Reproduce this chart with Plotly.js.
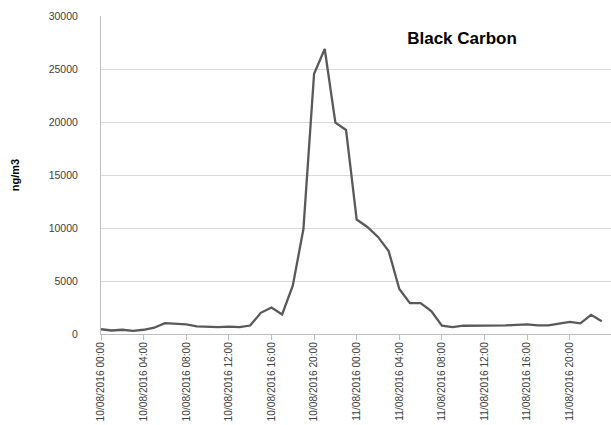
<!DOCTYPE html>
<html>
<head>
<meta charset="utf-8">
<script src="https://cdn.plot.ly/plotly-3.0.1.min.js"></script>
<style>html,body{margin:0;padding:0;background:#fff;}#chart{width:611px;height:425px;}</style>
</head>
<body>
<div id="chart"></div>
<script>
const times = [
  "10/08/2016 00:00","10/08/2016 01:00","10/08/2016 02:00","10/08/2016 03:00",
  "10/08/2016 04:00","10/08/2016 05:00","10/08/2016 06:00","10/08/2016 07:00",
  "10/08/2016 08:00","10/08/2016 09:00","10/08/2016 10:00","10/08/2016 11:00",
  "10/08/2016 12:00","10/08/2016 13:00","10/08/2016 14:00","10/08/2016 15:00",
  "10/08/2016 16:00","10/08/2016 17:00","10/08/2016 18:00","10/08/2016 19:00",
  "10/08/2016 20:00","10/08/2016 21:00","10/08/2016 22:00","10/08/2016 23:00",
  "11/08/2016 00:00","11/08/2016 01:00","11/08/2016 02:00","11/08/2016 03:00",
  "11/08/2016 04:00","11/08/2016 05:00","11/08/2016 06:00","11/08/2016 07:00",
  "11/08/2016 08:00","11/08/2016 09:00","11/08/2016 10:00","11/08/2016 11:00",
  "11/08/2016 12:00","11/08/2016 13:00","11/08/2016 14:00","11/08/2016 15:00",
  "11/08/2016 16:00","11/08/2016 17:00","11/08/2016 18:00","11/08/2016 19:00",
  "11/08/2016 20:00","11/08/2016 21:00","11/08/2016 22:00","11/08/2016 23:00"
];
const blackCarbon = [
  450, 330, 400, 300, 400, 590, 1020, 930,
  900, 710, 650, 650, 700, 650, 800, 2000,
  2500, 1850, 4550, 9900, 24550, 26890, 19940, 19250,
  10800, 10100, 9160, 7830, 4240, 2910, 2910, 2160,
  780, 650, 780, 780, 780, 780, 810, 870,
  900, 810, 810, 990, 1150, 1000, 1810, 1210
];
const tickLabels = [
  "10/08/2016 00:00","10/08/2016 04:00","10/08/2016 08:00","10/08/2016 12:00",
  "10/08/2016 16:00","10/08/2016 20:00","11/08/2016 00:00","11/08/2016 04:00",
  "11/08/2016 08:00","11/08/2016 12:00","11/08/2016 16:00","11/08/2016 20:00"
];
const yTicks = [0, 5000, 10000, 15000, 20000, 25000, 30000];
const chartTitle = "Black Carbon";
const yTitle = "ng/m3";

const trace = {
  type: "scatter",
  mode: "lines",
  x: times,
  y: blackCarbon,
  line: {color: "#595959", width: 2.3},
  hoverinfo: "x+y"
};

const layout = {
  width: 611,
  height: 425,
  margin: {l: 101, r: 0, t: 16, b: 91, pad: 0},
  paper_bgcolor: "#ffffff",
  plot_bgcolor: "#ffffff",
  showlegend: false,
  font: {family: "Liberation Sans, Arial, sans-serif", color: "#595959"},
  title: {
    text: "<b>" + chartTitle + "</b>",
    font: {family: "Liberation Sans, Arial, sans-serif", size: 17, color: "#000000"},
    x: 462 / 611, xref: "container", xanchor: "center",
    y: 1 - 38 / 425, yref: "container", yanchor: "middle"
  },
  xaxis: {
    type: "category",
    categoryorder: "array",
    categoryarray: times,
    range: [0, 47.87],
    tickmode: "array",
    tickvals: tickLabels,
    ticktext: tickLabels,
    tickangle: -90,
    tickfont: {size: 10.2, color: "#404040"},
    ticks: "outside",
    ticklen: 5,
    tickcolor: "#bfbfbf",
    ticklabelstandoff: -2,
    showline: true,
    linecolor: "#bfbfbf",
    linewidth: 1,
    showgrid: false,
    zeroline: false,
    automargin: false
  },
  yaxis: {
    range: [0, 30000],
    tickmode: "array",
    tickvals: yTicks,
    ticktext: yTicks.map(String),
    tickfont: {size: 10.5, color: "#404040"},
    ticks: "",
    ticklabelstandoff: 20,
    showline: true,
    linecolor: "#bfbfbf",
    linewidth: 1,
    showgrid: true,
    gridcolor: "#d9d9d9",
    gridwidth: 1,
    zeroline: false,
    automargin: false,
    title: {
      text: "<b>" + yTitle + "</b>",
      font: {size: 11, color: "#000000"},
      standoff: 26
    }
  }
};

Plotly.newPlot("chart", [trace], layout, {displayModeBar: false, staticPlot: true});
</script>
</body>
</html>
